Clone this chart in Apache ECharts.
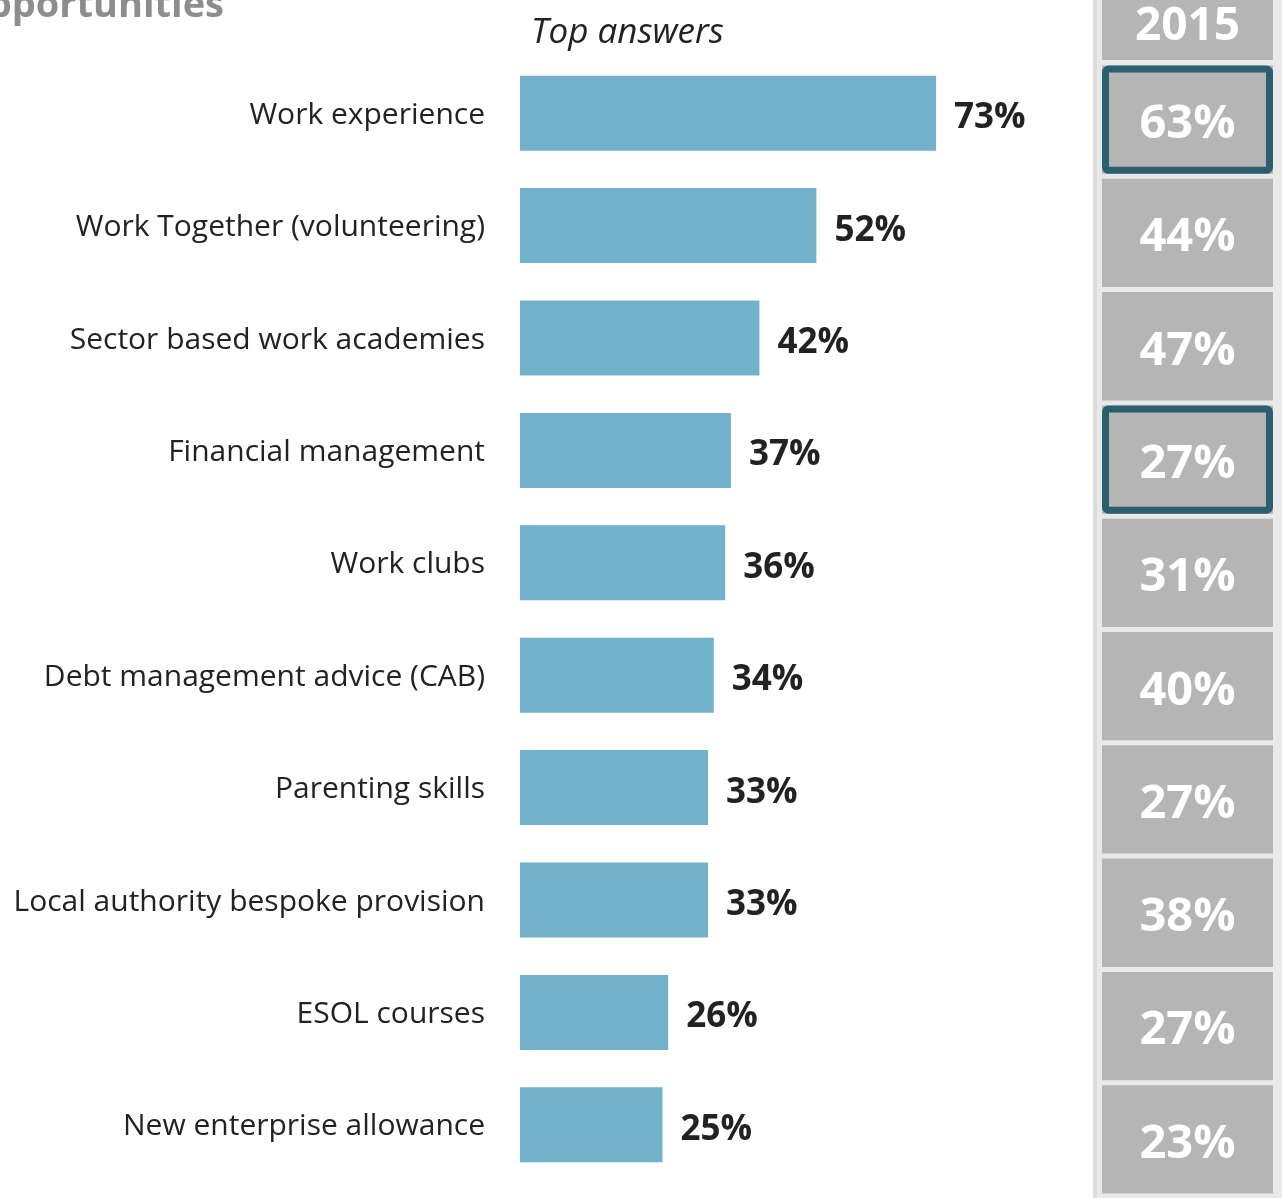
<!DOCTYPE html>
<html>
<head>
<meta charset="utf-8">
<title>Top answers</title>
<script src="https://cdn.jsdelivr.net/npm/echarts@6/dist/echarts.min.js"></script>
<style>
  html, body { margin: 0; padding: 0; background: #ffffff; }
  #chart { width: 1282px; height: 1198px; }
</style>
</head>
<body>
<div id="chart"></div>
<script>
// Support options, in the order shown
var categories = [
  'Work experience',
  'Work Together (volunteering)',
  'Sector based work academies',
  'Financial management',
  'Work clubs',
  'Debt management advice (CAB)',
  'Parenting skills',
  'Local authority bespoke provision',
  'ESOL courses',
  'New enterprise allowance'
];
// Share of respondents giving each answer (%)
var currentValues = [73, 52, 42, 37, 36, 34, 33, 33, 26, 25];
// Same question in 2015 (%)
var values2015 = [63, 44, 47, 27, 31, 40, 27, 38, 27, 23];
// Rows whose 2015 figure is outlined
var outlined = ['Work experience', 'Financial management'];
var comparisonYear = '2015';

var FONT = '"Open Sans", "Noto Sans", sans-serif';

var chart = echarts.init(document.getElementById('chart'));

var boxData = categories.map(function (name, i) {
  return [0, i, values2015[i], outlined.indexOf(name) >= 0 ? 1 : 0];
});

chart.setOption({
  animation: false,
  backgroundColor: '#ffffff',
  graphic: [
    // comparison column panel
    { type: 'rect', shape: { x: 1093, y: 0, width: 189, height: 1198 }, style: { fill: '#e9e9e9' }, z: -10 },
    { type: 'rect', shape: { x: 1093, y: 0, width: 4, height: 1198 }, style: { fill: '#dcdcdc' }, z: -9 },
    // column header
    { type: 'rect', shape: { x: 1102, y: -20, width: 171, height: 80 }, style: { fill: '#b5b5b5' }, z: 1 },
    { type: 'text', x: 1187.5, y: 27, z: 2,
      style: { text: comparisonYear, align: 'center', verticalAlign: 'middle', fill: '#ffffff',
               font: 'bold 46px ' + FONT } },
    // heading fragment running off the top-left corner
    { type: 'text', x: 224, y: 6, z: 2,
      style: { text: 'Opportunities', align: 'right', verticalAlign: 'middle', fill: '#8b8d8f',
               font: 'bold 38px ' + FONT } },
    { type: 'text', x: 531, y: 33, z: 2,
      style: { text: 'Top answers', align: 'left', verticalAlign: 'middle', fill: '#222222',
               font: 'italic 35px ' + FONT } }
  ],
  grid: [
    { left: 520, top: 57, width: 570, height: 1124 },
    { left: 1102, top: 63, width: 171, height: 1133 }
  ],
  xAxis: [
    { gridIndex: 0, type: 'value', min: 0, max: 100, show: false },
    { gridIndex: 1, type: 'category', data: [comparisonYear], show: false }
  ],
  yAxis: [
    {
      gridIndex: 0, type: 'category', data: categories, inverse: true,
      axisLine: { show: false }, axisTick: { show: false }, splitLine: { show: false },
      axisLabel: {
        margin: 35,
        formatter: function (v) { return '{l|' + v + '}'; },
        rich: { l: { color: '#222222', fontSize: 30, fontFamily: FONT, padding: [4, 0, 0, 0] } }
      }
    },
    { gridIndex: 1, type: 'category', data: categories, inverse: true, show: false }
  ],
  series: [
    {
      type: 'bar',
      xAxisIndex: 0, yAxisIndex: 0,
      data: currentValues,
      barWidth: 75,
      itemStyle: { color: '#72b1ca' },
      label: {
        show: true, position: 'right', distance: 18, offset: [0, 5],
        formatter: '{c}%',
        color: '#222222', fontSize: 35, fontWeight: 'bold', fontFamily: FONT
      }
    },
    {
      type: 'custom',
      xAxisIndex: 1, yAxisIndex: 1,
      data: boxData,
      encode: { x: 0, y: 1 },
      renderItem: function (params, api) {
        var c = api.coord([api.value(0), api.value(1)]);
        var s = api.size([1, 1]);
        var w = s[0], h = s[1] - 5;
        var x = c[0] - w / 2, y = c[1] - h / 2;
        var children = [
          { type: 'rect', shape: { x: x, y: y, width: w, height: h }, style: { fill: '#b5b5b5' } }
        ];
        if (api.value(3)) {
          children.push({
            type: 'rect',
            shape: { x: x + 3.5, y: y + 3.5, width: w - 7, height: h - 7, r: 3 },
            style: { fill: null, stroke: '#2b5f70', lineWidth: 7 }
          });
        }
        children.push({
          type: 'text',
          style: {
            text: api.value(2) + '%', x: c[0], y: c[1] + 5,
            align: 'center', verticalAlign: 'middle',
            fill: '#ffffff', font: 'bold 47px ' + FONT
          }
        });
        return { type: 'group', children: children };
      }
    }
  ]
});
</script>
</body>
</html>
